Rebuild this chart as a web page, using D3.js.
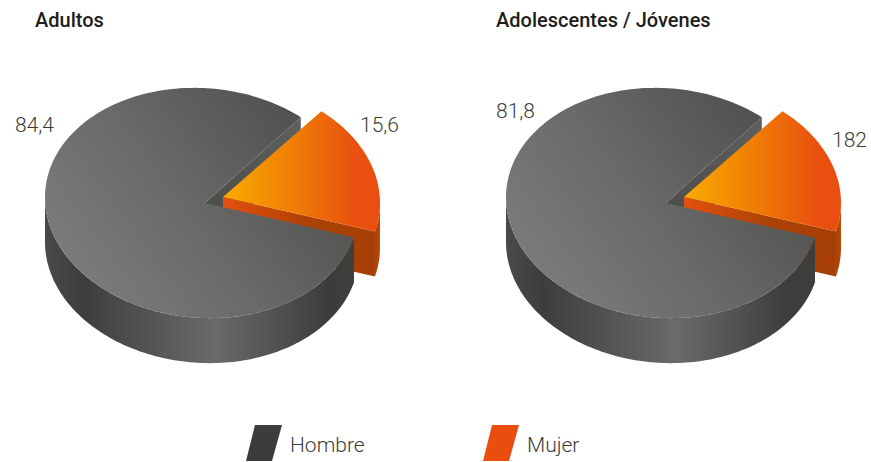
<!DOCTYPE html>
<html>
<head>
<meta charset="utf-8">
<script src="https://cdn.jsdelivr.net/npm/d3@7"></script>
<style>
  html, body { margin: 0; padding: 0; background: #fff; }
  text { font-family: Roboto, sans-serif; fill: #3c3c3b; }
  .title { font-size: 20px; font-weight: 500; fill: #1d1d1b; }
  .label, .legend-text { font-size: 21px; font-weight: 300; }
</style>
</head>
<body>
<div id="chart"></div>
<script>
const pieTitles = ['Adultos', 'Adolescentes / Jóvenes'];
const categories = ['Mujer', 'Hombre'];
const legendOrder = ['Hombre', 'Mujer'];
// printed labels, as they stand in the picture
const labelsAdultos = ['15,6', '84,4'];
const labelsJovenes = ['182', '81,8'];
// the picture draws both pies with the same wedge, so 81,8 / 18,2 sets the slices
const sliceValues = [18.2, 81.8];

const width = 871, height = 462;
const rx = 157, ry = 115, skew = 5.75, depth = 45;
const startDeg = 39;

const svg = d3.select('#chart').append('svg')
  .attr('width', width)
  .attr('height', height);

const defs = svg.append('defs');

function addGradient(id, x1, y1, x2, y2, stops) {
  const g = defs.append('linearGradient').attr('id', id)
    .attr('x1', x1).attr('y1', y1).attr('x2', x2).attr('y2', y2);
  stops.forEach((s) => g.append('stop').attr('offset', s[0]).attr('stop-color', s[1]));
}

addGradient('grayTop', 0, 0.75, 1, 0.2, [[0, '#7d7d7c'], [0.45, '#696968'], [1, '#4b4b49']]);
addGradient('grayWall', 0, 0, 1, 0, [[0, '#4a4a48'], [0.12, '#3d3d3b'], [0.55, '#6a6a68'], [0.92, '#3c3c3a'], [1, '#3e3e3c']]);
addGradient('grayFace', 0, 1, 1, 0, [[0, '#4a4a48'], [1, '#5f5f5d']]);
addGradient('orangeTop', 0, 0, 1, 0, [[0, '#f9ab00'], [0.45, '#ef7d05'], [0.85, '#e9500f'], [1, '#e94e10']]);
addGradient('orangeFace', 0, 0, 1, 0, [[0, '#e5500f'], [0.55, '#ac4205'], [1, '#a63f06']]);
addGradient('orangeWall', 0, 0, 1, 0, [[0, '#a63f06'], [1, '#c04a08']]);

const pie = d3.pie()
  .sort(null)
  .startAngle((startDeg * Math.PI) / 180)
  .endAngle((startDeg * Math.PI) / 180 + 2 * Math.PI);

const line = d3.line();

// disc point on the tilted ellipse, d3 angle convention
function project(c, a) {
  const u = Math.sin(a), v = -Math.cos(a);
  return [c.x + c.rx * u, c.y + skew * u + ry * v];
}

function drop(p) {
  return [p[0], p[1] + depth];
}

function arcPoints(c, a0, a1) {
  const n = Math.max(2, Math.ceil(Math.abs(a1 - a0) * 40));
  return d3.range(n + 1).map((i) => project(c, a0 + ((a1 - a0) * i) / n));
}

function drawTop(g, c, s, fill) {
  g.append('path')
    .attr('d', line([[c.ax, c.ay], ...arcPoints(c, s.startAngle, s.endAngle)]) + 'Z')
    .attr('fill', fill);
}

function drawFace(g, c, a, fill) {
  const p = project(c, a);
  g.append('path')
    .attr('d', line([[c.ax, c.ay], p, drop(p), drop([c.ax, c.ay])]) + 'Z')
    .attr('fill', fill);
}

// outer wall, only the part that looks towards the viewer
function drawWall(g, c, s, fill) {
  const a0 = Math.max(s.startAngle, Math.PI / 2);
  const a1 = Math.min(s.endAngle, (3 * Math.PI) / 2);
  const topEdge = arcPoints(c, a0, a1);
  g.append('path')
    .attr('d', line([...topEdge, ...topEdge.map(drop).reverse()]) + 'Z')
    .attr('fill', fill);
}

function drawPie(i, dx, labels, labelPos) {
  const g = svg.append('g').attr('transform', `translate(${dx},0)`);
  const arcs = pie(sliceValues);
  const mujer = arcs[0], hombre = arcs[1];
  const grayC = { x: 202, y: 203, rx: rx, ax: 205, ay: 203 };
  const orangeC = { x: 222, y: 197, rx: rx + 1, ax: 223, ay: 197 };

  // back to front
  drawFace(g, grayC, hombre.endAngle, 'url(#grayFace)');
  drawWall(g, orangeC, mujer, 'url(#orangeWall)');
  drawFace(g, orangeC, mujer.endAngle, 'url(#orangeFace)');
  drawTop(g, orangeC, mujer, 'url(#orangeTop)');
  drawWall(g, grayC, hombre, 'url(#grayWall)');
  drawTop(g, grayC, hombre, 'url(#grayTop)');

  svg.append('text')
    .attr('class', 'title')
    .attr('x', dx + 35)
    .attr('y', 27)
    .text(pieTitles[i]);

  labels.forEach((t, k) => {
    svg.append('text')
      .attr('class', 'label')
      .attr('x', labelPos[k][0])
      .attr('y', labelPos[k][1])
      .text(t);
  });
}

drawPie(0, 0, labelsAdultos, [[360, 132], [15, 132]]);
drawPie(1, 461, labelsJovenes, [[832, 147], [496, 118]]);

// legend
const legendColor = d3.scaleOrdinal().domain(legendOrder).range(['#3c3c3b', '#e94e10']);
const legendX = d3.scalePoint().domain(legendOrder).range([246, 483]);

const legend = svg.selectAll('.legend')
  .data(legendOrder)
  .enter()
  .append('g')
  .attr('class', 'legend')
  .attr('transform', (d) => `translate(${legendX(d)},425)`);

legend.append('path')
  .attr('d', line([[9, 0], [36, 0], [26, 36], [0, 36]]) + 'Z')
  .attr('fill', (d) => legendColor(d));

legend.append('text')
  .attr('class', 'legend-text')
  .attr('x', 44)
  .attr('y', 27)
  .text((d) => d);
</script>
</body>
</html>
